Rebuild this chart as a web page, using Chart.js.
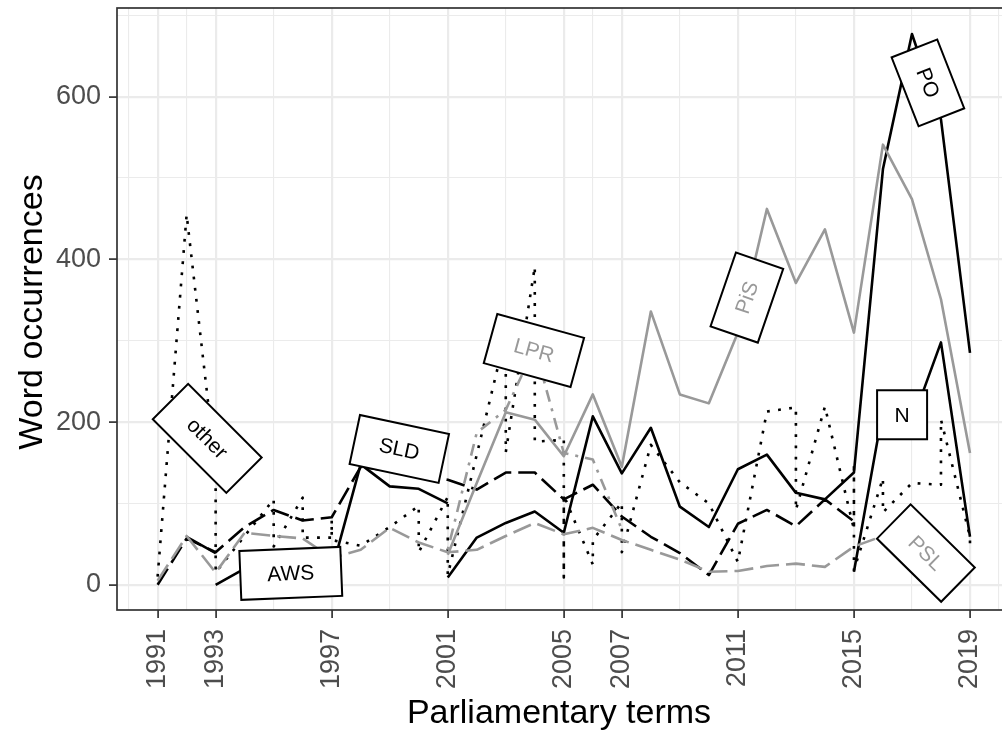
<!DOCTYPE html>
<html>
<head>
<meta charset="utf-8">
<script src="https://cdn.jsdelivr.net/npm/chart.js@4.4.1/dist/chart.umd.min.js"></script>
<style>
html,body{margin:0;padding:0;overflow:hidden;background:#fff}
canvas{display:block}
</style>
</head>
<body>
<canvas id="c" width="1012" height="737"></canvas>
<script>
// axis breaks
const termYears=[1991,1993,1997,2001,2005,2007,2011,2015,2019];
const minorYears=[1990,1992,1995,1999,2003,2006,2009,2013,2017,2020];
const yTicks=[0,200,400,600];
const yMinor=[100,300,500,700];

// series
const sldYears=[1991,1992,1993,1994,1995,1996,1997,1998,1999,2000,2001,2002,2003,2004,2005,2006,2007,2008,2009,2010,2011,2012,2013,2014,2015];
const sldValues=[0,57,40,71,92,79,83,145,140,135,129,117,138,138,105,123,84,59,39,12,75,92,72,105,78];

const awsYears=[1992,1993,1993,1993,1994,1995,1996,1997,1998,1999,2000,2001];
const awsValues=[59,39,null,0,20,25,22,17,148,121,118,100];

const pslYears=[1991,1992,1993,1994,1995,1996,1997,1998,1999,2000,2001,2002,2003,2004,2005,2006,2007,2008,2009,2010,2011,2012,2013,2014,2015,2016,2017,2018,2019];
const pslValues=[5,60,15,64,60,57,33,43,70,52,40,43,60,76,62,70,55,43,31,16,17,23,26,22,47,60,40,30,20];

const lprYears=[2001,2002,2003,2004,2005,2006,2007];
const lprValues=[43,187,215,292,162,154,68];

const pisYears=[2001,2002,2003,2004,2005,2006,2007,2008,2009,2010,2011,2012,2013,2014,2015,2016,2017,2018,2019];
const pisValues=[37,125,212,203,158,234,145,336,234,223,310,462,371,437,310,541,474,351,162];

const poYears=[2001,2002,2003,2004,2005,2006,2007,2008,2009,2010,2011,2012,2013,2014,2015,2016,2017,2018,2019];
const poValues=[9,58,76,90,64,207,137,193,96,71,142,160,113,105,138,511,677,572,285];

const nYears=[2015,2016,2017,2018,2019];
const nValues=[16,215,200,298,59];

// "other" joins several small parties, so some years repeat
const otherYears=[1991,1992,1993,1993,1994,1995,1995,1996,1996,1997,1997,1997,1998,1999,2000,2000,2001,2001,2002,2003,2003,2004,2004,2005,2005,2005,2006,2006,2007,2007,2008,2009,2010,2011,2012,2013,2013,2014,2015,2015,2015,2016,2016,2017,2018,2018,2019,2019];
const otherValues=[10,455,143,15,60,105,47,107,58,58,80,55,48,71,97,40,108,12,160,308,163,391,176,178,9,110,25,55,101,40,172,126,100,28,213,218,92,219,68,150,18,131,89,125,123,203,59,43];

// direct labels on the lines
const tags=[
 {text:'other',year:1992.71,value:180,angle:45,w:104,h:50,color:'#000000'},
 {text:'SLD',year:1999.33,value:167,angle:12,w:91,h:50,color:'#000000'},
 {text:'AWS',year:1995.59,value:14,angle:-2.3,w:101,h:49,color:'#000000'},
 {text:'LPR',year:2003.97,value:288,angle:15.4,w:90,h:51,color:'#999999'},
 {text:'PiS',year:2011.31,value:353,angle:-71,w:78,h:50,color:'#999999'},
 {text:'PO',year:2017.55,value:617,angle:68.6,w:74,h:49,color:'#000000'},
 {text:'N',year:2016.66,value:209,angle:0,w:50,h:49,color:'#000000'},
 {text:'PSL',year:2017.48,value:39,angle:44.5,w:90,h:48,color:'#999999'}
];

const FONT='"Liberation Sans", Arial, Helvetica, sans-serif';
const pts=(xs,ys)=>xs.map((x,i)=>({x:x,y:ys[i]}));
const solid=[], dotted=[2.8,8.4], longdash=[19,7], dotdash=[3,7,12,7];

function line(label,xs,ys,color,dash,width){
  return {label:label,data:pts(xs,ys),borderColor:color,borderWidth:width||2.6,
    borderDash:dash,pointRadius:0,fill:false,tension:0,spanGaps:false,borderJoinStyle:'round'};
}
function noPad(s){s.paddingTop=0;s.paddingBottom=0;s.paddingLeft=0;s.paddingRight=0;}

const deco={
  id:'deco',
  afterDatasetsDraw(ch){
    const ctx=ch.ctx,a=ch.chartArea,x=ch.scales.x,y=ch.scales.y;
    ctx.save();
    tags.forEach(t=>{
      ctx.save();
      ctx.translate(x.getPixelForValue(t.year),y.getPixelForValue(t.value));
      ctx.rotate(t.angle*Math.PI/180);
      ctx.fillStyle='#ffffff';
      ctx.fillRect(-t.w/2,-t.h/2,t.w,t.h);
      ctx.lineWidth=2;ctx.strokeStyle='#000000';
      ctx.strokeRect(-t.w/2,-t.h/2,t.w,t.h);
      ctx.fillStyle=t.color;
      ctx.font='21px '+FONT;
      ctx.textAlign='center';ctx.textBaseline='middle';
      ctx.fillText(t.text,0,1);
      ctx.restore();
    });
    ctx.strokeStyle='#333333';ctx.lineWidth=1.7;
    ctx.strokeRect(a.left,a.top,a.right-a.left,a.bottom-a.top);
    ctx.fillStyle='#000000';
    ctx.font='34px '+FONT;
    ctx.textAlign='center';ctx.textBaseline='alphabetic';
    ctx.fillText('Parliamentary terms',559,723);
    ctx.save();
    ctx.translate(42,312);
    ctx.rotate(-Math.PI/2);
    ctx.fillText('Word occurrences',0,0);
    ctx.restore();
    ctx.restore();
  }
};

new Chart(document.getElementById('c'),{
  type:'line',
  data:{datasets:[
    line('PSL',pslYears,pslValues,'#999999',longdash),
    line('LPR',lprYears,lprValues,'#999999',dotdash),
    line('PiS',pisYears,pisValues,'#999999',solid),
    line('SLD',sldYears,sldValues,'#000000',longdash),
    line('AWS',awsYears,awsValues,'#000000',solid),
    line('PO',poYears,poValues,'#000000',solid),
    line('N',nYears,nValues,'#000000',solid),
    line('other',otherYears,otherValues,'#000000',dotted)
  ]},
  options:{
    responsive:false,animation:false,events:[],
    layout:{padding:{top:8,right:1.4,left:0,bottom:0}},
    plugins:{legend:{display:false},tooltip:{enabled:false}},
    scales:{
      x:{type:'linear',min:1989.6,max:2020.4,
        afterBuildTicks:s=>{s.ticks=termYears.concat(minorYears).sort((p,q)=>p-q).map(v=>({value:v}));},
        afterFit:s=>{s.height=127;noPad(s);},
        grid:{color:'#EBEBEB',
          lineWidth:c=>(c.tick&&minorYears.includes(c.tick.value))?1.1:2.2,
          tickColor:c=>(c.tick&&minorYears.includes(c.tick.value))?'rgba(0,0,0,0)':'#333333',
          tickWidth:1.7,tickLength:8},
        border:{display:false},
        ticks:{autoSkip:false,minRotation:90,maxRotation:90,padding:11,color:'#4D4D4D',
          font:{family:FONT,size:27},
          callback:v=>termYears.includes(v)?String(v):''}
      },
      y:{type:'linear',min:-31,max:709,
        afterBuildTicks:s=>{s.ticks=yTicks.concat(yMinor).sort((p,q)=>p-q).map(v=>({value:v}));},
        afterFit:s=>{s.width=117;noPad(s);},
        grid:{color:'#EBEBEB',
          lineWidth:c=>(c.tick&&yMinor.includes(c.tick.value))?1.1:2.2,
          tickColor:c=>(c.tick&&yMinor.includes(c.tick.value))?'rgba(0,0,0,0)':'#333333',
          tickWidth:1.7,tickLength:8},
        border:{display:false},
        ticks:{autoSkip:false,padding:8,color:'#4D4D4D',font:{family:FONT,size:27},
          callback:v=>yTicks.includes(v)?String(v):''}
      }
    }
  },
  plugins:[deco]
});
</script>
</body>
</html>
